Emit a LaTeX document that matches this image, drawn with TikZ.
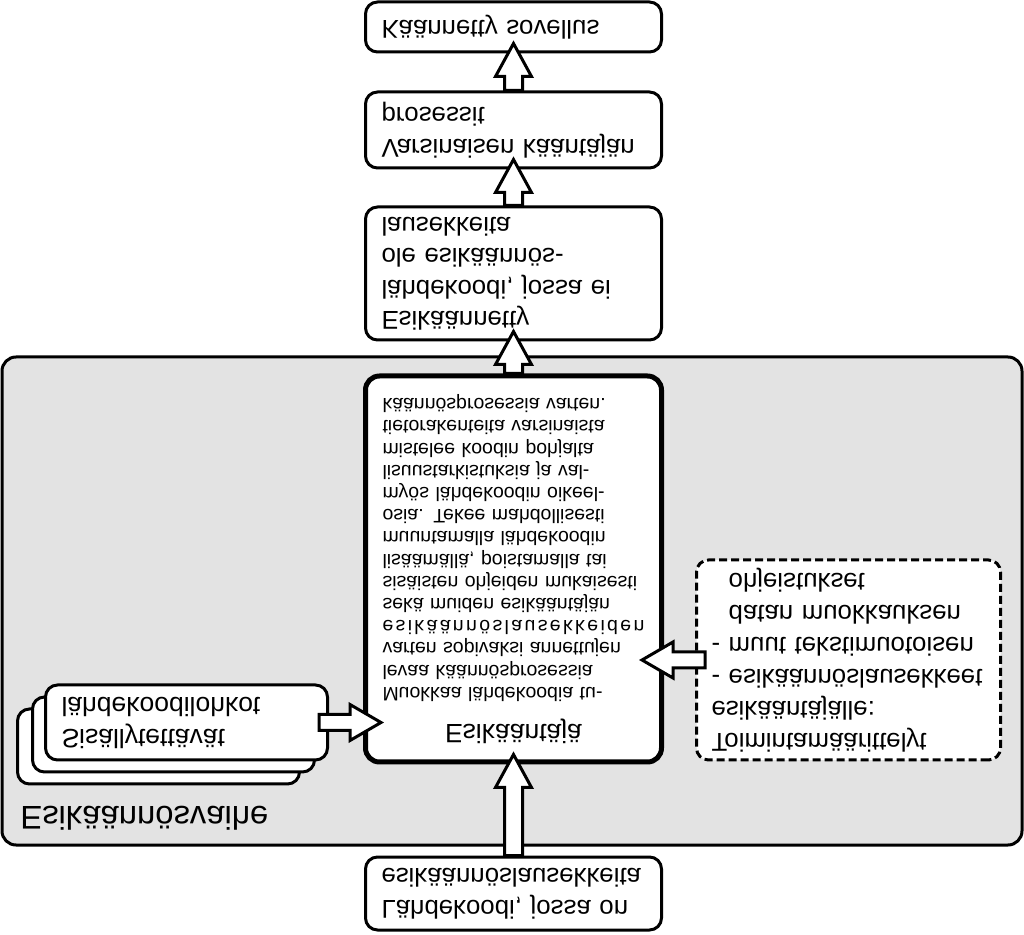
\documentclass[tikz,border=0pt]{standalone}
\usepackage{fontspec}
\setmainfont{Liberation Sans}
\usetikzlibrary{calc}
\definecolor{stagegray}{HTML}{E3E3E3}
\tikzset{
  box/.style={draw, line width=1.5pt, rounded corners=6pt, fill=white, text width=132pt, inner xsep=8pt, align=left, font=\fontsize{12.9}{15.75}\selectfont},
  libbox/.style={draw, line width=1.5pt, rounded corners=6pt, fill=white, minimum height=37.5pt, text width=125pt, inner xsep=8pt, align=left, font=\fontsize{13.25}{16}\selectfont},
  blockarr/.style={draw, line width=1.5pt, fill=white, line join=miter},
}
\newcommand{\varr}[2]{\draw[blockarr] ($(#1)+(-9,0)$) -- ($(#2)+(-9,23)$) -- ($(#2)+(-18,23)$) -- ($(#2)+(0,-10)$) -- ($(#2)+(18,23)$) -- ($(#2)+(9,23)$) -- ($(#1)+(9,0)$) -- cycle;}
\newcommand{\harr}[3]{\draw[blockarr] ($(#1)+(0,8)$) -- ($(#2)+({-31*(#3)},8)$) -- ($(#2)+({-31*(#3)},18)$) -- (#2) -- ($(#2)+({-31*(#3)},-18)$) -- ($(#2)+({-31*(#3)},-8)$) -- ($(#1)+(0,-8)$) -- cycle;}
\newcommand{\jl}[1]{\makebox[\linewidth][s]{#1}\\}
\begin{document}
\begin{tikzpicture}[x=0.5pt, y=0.5pt, yscale=-1, transform shape]
\useasboundingbox (0,0) rectangle (1024,935);
\node[draw, line width=1.5pt, rounded corners=7pt, fill=stagegray, minimum width=510pt, minimum height=244pt] (stage) at (512,601) {};
\node[anchor=west, inner sep=0pt, font=\fontsize{16.4}{18}\selectfont] (stagelbl) at (20,818) {Esikäännösvaihe};
\node[box, minimum height=36.5pt] (src) at (513.5,893.5) {Lähdekoodi, jossa on\\esikäännöslausekkeita};
\node[draw, line width=2.5pt, rounded corners=7pt, fill=white, minimum height=193pt, text width=131pt, inner xsep=8.5pt, align=left, font=\fontsize{9.75}{11.1}\selectfont] (pre) at (513.5,569) {%
\makebox[\linewidth]{\fontsize{13.25}{15}\selectfont Esikääntäjä}\\[7.4pt]
\jl{Muokkaa lähdekoodia tu-}
\jl{levaa käännösprosessia}
\jl{varten sopivaksi annettujen}
\jl{e\hfil s\hfil i\hfil k\hfil ä\hfil ä\hfil n\hfil n\hfil ö\hfil s\hfil l\hfil a\hfil u\hfil s\hfil e\hfil k\hfil k\hfil e\hfil i\hfil d\hfil e\hfil n}
\jl{sekä muiden esikääntäjän}
\jl{sisäisten ohjeiden mukaisesti}
\jl{lisäämällä, poistamalla tai}
\jl{muuntamalla lähdekoodin}
\jl{osia. Tekee mahdollisesti}
\jl{myös lähdekoodin oikeel-}
\jl{lisuustarkistuksia ja val-}
\jl{mistelee koodin pohjalta}
\jl{tietorakenteita varsinaista}
käännösprosessia varten.};
\node[box, minimum height=66.5pt] (out1) at (513.5,273.5) {Esikäännetty\\lähdekoodi, jossa ei\\ole esikäännös-\\lausekkeita};
\node[box, minimum height=38pt] (out2) at (513.5,130) {Varsinaisen kääntäjän\\prosessit};
\node[box, minimum height=25pt] (out3) at (513.5,27) {Käännetty sovellus};
\node[libbox] (libback) at (158.5,746.5) {};
\node[libbox] (libmid) at (173.5,734.5) {};
\node[libbox] (lib) at (186.5,722.5) {Sisällytettävät\\lähdekoodilohkot};
\node[draw, line width=1.5pt, dash pattern=on 4pt off 2pt, rounded corners=6pt, fill=white, minimum height=100pt, text width=137pt, inner xsep=7.5pt, align=left, font=\fontsize{12.9}{16}\selectfont] (ctrl) at (848.5,660) {Toimintamäärittelyt\\esikääntäjälle:\\\mbox{- esikäännöslausekkeet}\\\mbox{- muut tekstimuotoisen}\\\hphantom{- }datan muokkauksen\\\hphantom{- }ohjeistukset};
\coordinate (libout) at ($(lib.east)+(-10,0)$);
\coordinate (prein) at ($(pre.west |- libout)+(18,0)$);
\coordinate (ctrlout) at ($(ctrl.west)+(10,0)$);
\coordinate (preinr) at ($(pre.east |- ctrlout)+(-22,0)$);
\varr{src.south}{pre.north}
\varr{pre.south}{out1.north}
\varr{out1.south}{out2.north}
\varr{out2.south}{out3.north}
\harr{libout}{prein}{1}
\harr{ctrlout}{preinr}{-1}
\end{tikzpicture}
\end{document}
